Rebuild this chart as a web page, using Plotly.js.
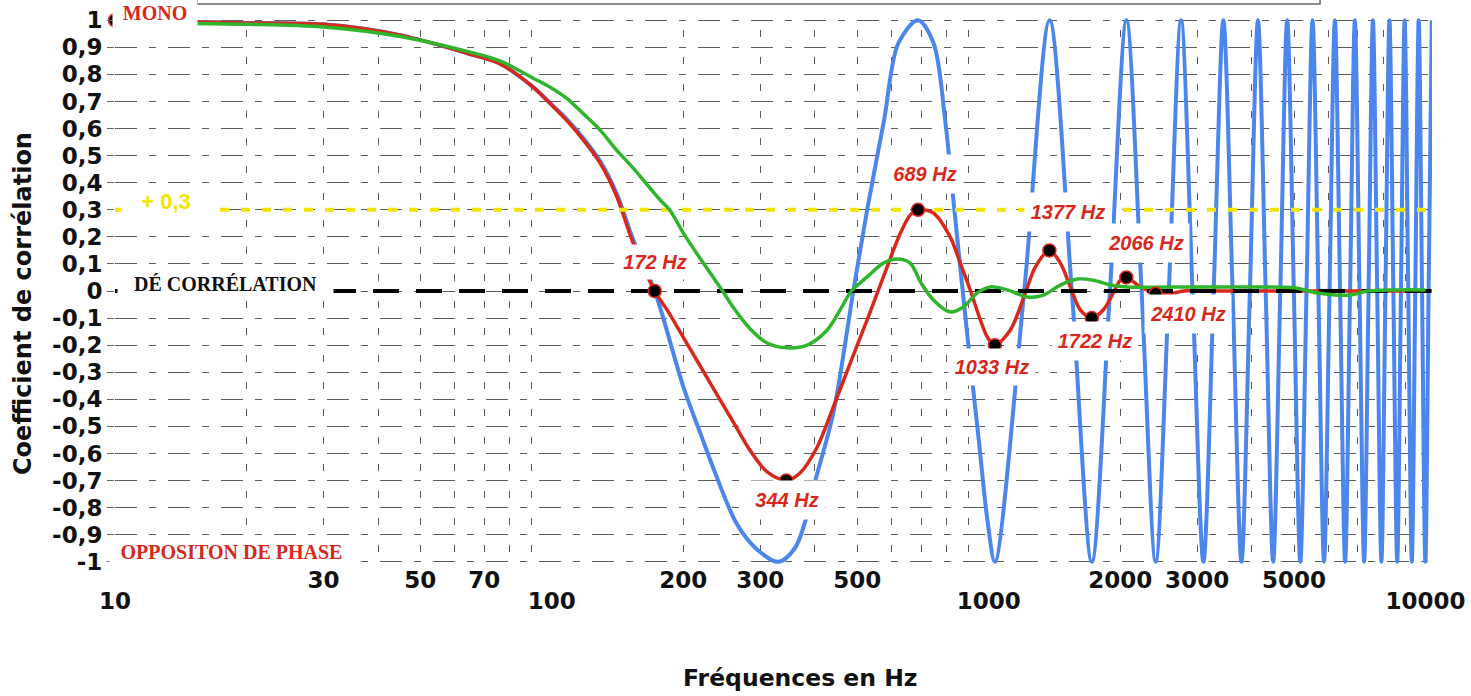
<!DOCTYPE html>
<html>
<head>
<meta charset="utf-8">
<script src="https://cdn.plot.ly/plotly-3.0.1.min.js"></script>
<style>
html,body{margin:0;padding:0;background:#ffffff;}
#chart{width:1471px;height:696px;}
</style>
</head>
<body>
<div id="chart"></div>
<script>
// ---------- data ----------
// blue curve (single delayed signal)
const blueFreq = [10,20,30,45,64,76,90.6,100,108,117.6,129,140.7,153.5,172,200,218.6,235,265,295,330,360,382,401,441,490,527,576,621,689,748,795,830,893,950,993,1033,
  1206,1378,1550,1722,1895,2067,2239,2411,2584,2756,2928,3101,3273,3445,3617,3790,3962,4134,4306,4479,4651,4823,4995,5168,5340,5512,5684,5857,6029,6201,6373,6546,6718,6890,7062,7235,7407,7579,7751,7924,8096,8268,8440,8613,8785,8957,9129,9302,9474,9646,9818,9991,10163,10335];
const blueVal = [1,0.99,0.985,0.945,0.878,0.84,0.753,0.688,0.636,0.568,0.48,0.36,0.19,0.0,-0.354,-0.524,-0.66,-0.86,-0.955,-1.0,-0.95,-0.84,-0.70,-0.45,0.0,0.30,0.63,0.915,1.0,0.915,0.63,0.336,-0.16,-0.557,-0.845,-1,
  0,1,0,-1,0,1,0,-1,0,1,0,-1,0,1,0,-1,0,1,0,-1,0,1,0,-1,0,1,0,-1,0,1,0,-1,0,1,0,-1,0,1,0,-1,0,1,0,-1,0,1,0,-1,0,1,0,-1,0,1];
// red curve
const redFreq = [10,20,30,45,64,76,90.6,100,108,117.6,129,140.7,153.5,172,183.6,199.8,218.6,239,260,284.6,311,344,370,405,441,482,527,556,574,628,661,689,747,816,861,907,957,993,1033,1121,1213,1279,1377,1459,1538,1621,1722,1829,1929,2001,2066,2223,2410,2566,2800,3500,5000,7000,10350];
const redVal = [1,0.99,0.985,0.945,0.878,0.84,0.753,0.686,0.631,0.561,0.472,0.35,0.177,0,-0.07,-0.17,-0.277,-0.384,-0.483,-0.59,-0.668,-0.70,-0.672,-0.576,-0.428,-0.266,-0.107,-0.007,0.052,0.214,0.28,0.30,0.288,0.2,0.103,0.004,-0.107,-0.17,-0.2,-0.144,-0.007,0.089,0.15,0.103,0.015,-0.07,-0.1,-0.07,-0.007,0.04,0.05,0.015,-0.007,-0.012,0,0,0,0,0];
// green curve
const greenFreq = [10,20,30,45,64,76,90.6,100,108,117.6,129,140.7,153.5,177,186,200,218.6,246,260,284.6,311,345,384,427,457,485,527,574,618,661,700,747,816,875,942,1008,1103,1226,1334,1459,1596,1736,1899,2075,3000,4000,5000,5654,6730,7362,8500,10000];
const greenVal = [0.99,0.985,0.975,0.94,0.885,0.85,0.786,0.749,0.712,0.657,0.594,0.52,0.454,0.336,0.30,0.214,0.12,0.0,-0.06,-0.14,-0.192,-0.21,-0.2,-0.144,-0.07,0.0,0.052,0.103,0.118,0.103,0.03,-0.033,-0.077,-0.059,-0.007,0.015,0.004,-0.022,-0.015,0.022,0.044,0.04,0.022,0.015,0.015,0.015,0.012,-0.007,-0.015,0.0,0.004,0.004];
// marked points on the red curve
const dotFreq = [10,172,344,689,1033,1377,1722,2066,2410];
const dotVal = [1,0,-0.7,0.3,-0.2,0.15,-0.1,0.05,-0.01];
const dotLabel = ['', '172 Hz','344 Hz','689 Hz','1033 Hz','1377 Hz','1722 Hz','2066 Hz','2410 Hz'];
// reference levels
const lineFreq = [10, 10350];
const seuilLevel = 0.3;
const decorLevel = 0;
// ticks
const upperTickVals = [30,50,70,200,300,500,2000,3000,5000];
const upperTickText = ['30','50','70','200','300','500','2000','3000','5000'];
const lowerTickVals = [10,100,1000,10000];
const lowerTickText = ['10','100','1000','10000'];
const minorGridVals = [20,40,60,80,90,400,600,700,800,900,4000,6000,7000,8000,9000];
const majorGridVals = [100,1000];
const edgeVals = [10,10000];
const yTickVals = [1,0.9,0.8,0.7,0.6,0.5,0.4,0.3,0.2,0.1,0,-0.1,-0.2,-0.3,-0.4,-0.5,-0.6,-0.7,-0.8,-0.9,-1];
const yTickText = ['1','0,9','0,8','0,7','0,6','0,5','0,4','0,3','0,2','0,1','0','-0,1','-0,2','-0,3','-0,4','-0,5','-0,6','-0,7','-0,8','-0,9','-1'];

// ---------- styles ----------
const RED = '#d8281c';
const BLUE = '#4a86ec';
const GREEN = '#2eb52c';
const YELLOW = '#f3e400';
const GRID = '#5c5c5c';
const XRANGE = [1, 4.0148];
const YRANGE = [-1.012, 1.012];
const tickFont = {family:'DejaVu Sans', size:23, color:'#111', weight:'bold'};

const traces = [
  {x: blueFreq, y: blueVal, mode:'lines', line:{color:BLUE, width:4, shape:'spline', smoothing:0.9}, hoverinfo:'skip'},
  {x: redFreq, y: redVal, mode:'lines', line:{color:RED, width:3.5, shape:'spline', smoothing:0.9}, hoverinfo:'skip'},
  {x: lineFreq, y: lineFreq.map(() => seuilLevel), mode:'lines', line:{color:YELLOW, width:4, dash:'9px,12px'}, hoverinfo:'skip'},
  {x: lineFreq, y: lineFreq.map(() => decorLevel), mode:'lines', line:{color:'#000', width:4, dash:'26px,17px'}, hoverinfo:'skip'},
  {x: greenFreq, y: greenVal, mode:'lines', line:{color:GREEN, width:3.5, shape:'spline', smoothing:0.9}, hoverinfo:'skip'},
  {x: dotFreq, y: dotVal, xaxis:'x2', mode:'markers', cliponaxis:false,
   marker:{size:13, color:'#000', line:{color:RED, width:1.5}}, hoverinfo:'skip'}
];

// label offsets (pixels) and box sizes for each marked point
const labelShift = [null,[0,29],[1,-19],[7,36],[-3,-22],[19,38],[3,-23],[20,34],[32,-20]];
const labelBox = [null,[64,34],[76,38],[76,38],[86,36],[86,38],[86,38],[86,38],[86,38]];
const labelFont = {family:'Liberation Sans', size:20, color:RED, weight:'bold', style:'italic'};
const annotations = [];
dotLabel.forEach((t, i) => {
  if (!t) return;
  annotations.push({
    xref:'x', yref:'y', x: Math.log10(dotFreq[i]), y: dotVal[i],
    xshift: labelShift[i][0], yshift: labelShift[i][1],
    text: t, showarrow:false, font: labelFont, bgcolor:'#ffffff',
    width: labelBox[i][0], height: labelBox[i][1], borderpad:0, xanchor:'center', yanchor:'middle'
  });
});
const serifBold = (c) => ({family:'Liberation Serif', size:20, color:c, weight:'bold'});
annotations.push(
  {xref:'x', yref:'y', x:Math.log10(10), y:1, xshift:40, yshift:7, text:'MONO', showarrow:false,
   font:serifBold(RED), bgcolor:'#fff', width:84, height:28, borderpad:0, xanchor:'center', yanchor:'middle'},
  {xref:'x', yref:'y', x:Math.log10(10), y:-1, xshift:116.5, yshift:10, text:'OPPOSITON DE PHASE', showarrow:false,
   font:serifBold(RED), bgcolor:'#fff', width:243, height:27, borderpad:0, xanchor:'center', yanchor:'middle'},
  {xref:'x', yref:'y', x:Math.log10(10), y:decorLevel, xshift:110.5, yshift:7, text:'DÉ CORRÉLATION', showarrow:false,
   font:serifBold('#111'), bgcolor:'#fff', width:215, height:32, borderpad:0, xanchor:'center', yanchor:'middle'},
  {xref:'x', yref:'y', x:Math.log10(10), y:seuilLevel, xshift:51, yshift:9, text:'+ 0,3', showarrow:false,
   font:{family:'Liberation Sans', size:22, color:YELLOW, weight:'bold'}, bgcolor:'#fff', width:88, height:30, borderpad:0,
   xanchor:'center', yanchor:'middle'},
  {xref:'paper', yref:'paper', x:0, y:0.5, xshift:-92, yshift:-13, textangle:-90, text:'Coefficient de corrélation', showarrow:false,
   xanchor:'center', yanchor:'middle', font:{family:'DejaVu Sans', size:24, color:'#111', weight:'bold'}},
  {xref:'paper', yref:'paper', x:0.5, y:0, xshift:27, yshift:-113, text:'Fréquences en Hz', showarrow:false,
   xanchor:'center', yanchor:'middle', font:{family:'DejaVu Sans', size:23.5, color:'#111', weight:'bold'}}
);

const shapes = [];
majorGridVals.forEach(v => shapes.push({type:'line', xref:'x', yref:'y', x0:Math.log10(v), x1:Math.log10(v), y0:-1, y1:1,
  line:{color:'#555', width:1}, layer:'below'}));
edgeVals.forEach(v => shapes.push({type:'line', xref:'x', yref:'y', x0:Math.log10(v), x1:Math.log10(v), y0:-1, y1:1,
  line:{color:'#777', width:1.3, dash:'dot'}, layer:'below'}));
shapes.push({type:'rect', xref:'paper', yref:'paper', x0:0.0623, x1:0.915, y0:1.0237, y1:1.12,
  line:{color:'#666', width:1.5}, fillcolor:'rgba(0,0,0,0)'});

const layout = {
  width:1471, height:696,
  margin:{l:115, r:39, t:17, b:131, pad:0},
  paper_bgcolor:'#fff', plot_bgcolor:'#fff',
  showlegend:false,
  xaxis:{type:'log', range:XRANGE, tickmode:'array', tickvals:upperTickVals, ticktext:upperTickText,
    ticks:'', showgrid:true, gridcolor:GRID, gridwidth:1, griddash:'0px,13px,7px,7.1px',
    minor:{tickmode:'array', tickvals:minorGridVals, showgrid:true, gridcolor:GRID, gridwidth:1, griddash:'0px,13px,7px,7.1px', ticks:''},
    zeroline:false, showline:false, tickfont:tickFont, automargin:false, ticklabelstandoff:-1, fixedrange:true},
  xaxis2:{type:'log', range:XRANGE, overlaying:'x', anchor:'y', side:'bottom', tickmode:'array',
    tickvals:lowerTickVals, ticktext:lowerTickText, ticks:'', showgrid:false, zeroline:false, showline:false,
    tickfont:tickFont, automargin:false, ticklabelstandoff:20, fixedrange:true},
  yaxis:{range:YRANGE, tickmode:'array', tickvals:yTickVals, ticktext:yTickText, ticks:'outside', ticklen:7,
    tickcolor:'#666', tickwidth:1, showgrid:true, gridcolor:GRID, gridwidth:1, griddash:'22px,12px,7px,12px',
    zeroline:false, showline:false, tickfont:tickFont, automargin:false, fixedrange:true},
  annotations: annotations,
  shapes: shapes
};

Plotly.newPlot('chart', traces, layout, {displayModeBar:false, staticPlot:true});
</script>
</body>
</html>
